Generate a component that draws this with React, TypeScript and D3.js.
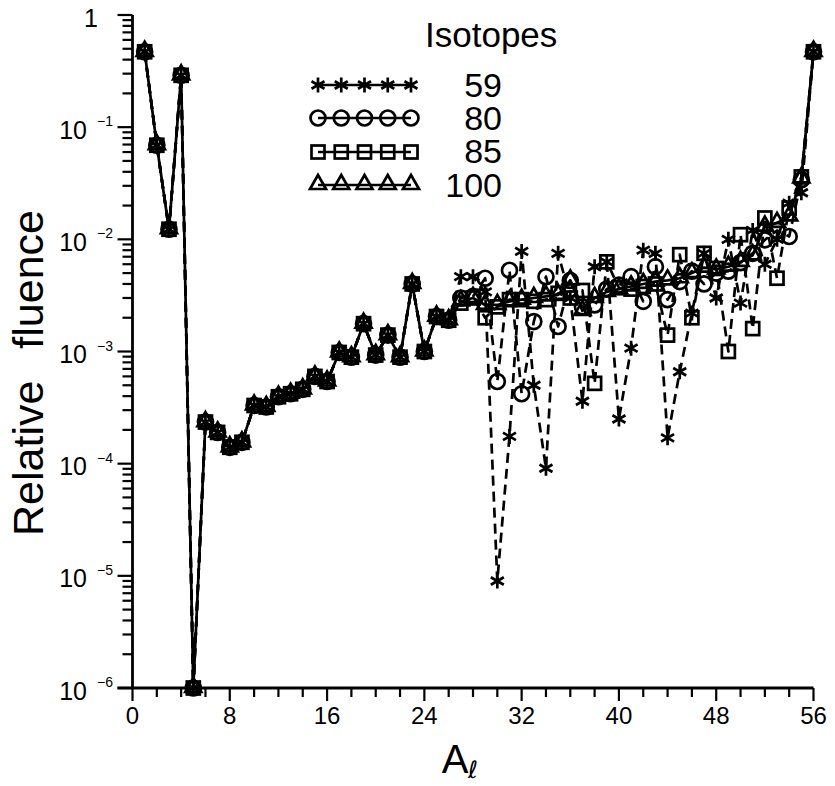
import React from "react";
import * as d3 from "d3";

// ---------- data ----------
const A_VALUES = [
  1, 2, 3, 4, 5, 6, 7, 8, 9, 10, 11, 12, 13, 14, 15, 16, 17, 18, 19, 20,
  21, 22, 23, 24, 25, 26, 27, 28, 29, 30, 31, 32, 33, 34, 35, 36, 37, 38, 39, 40,
  41, 42, 43, 44, 45, 46, 47, 48, 49, 50, 51, 52, 53, 54, 55, 56,
];

// identical for every isotope set (A = 1..26)
const COMMON = [
  0.47, 0.069, 0.0123, 0.29, 1e-6, 2.35e-4, 1.9e-4, 1.4e-4, 1.55e-4, 3.3e-4,
  3.2e-4, 3.95e-4, 4.2e-4, 4.6e-4, 6.0e-4, 5.4e-4, 9.8e-4, 8.9e-4, 1.77e-3, 9.3e-4,
  1.4e-3, 8.9e-4, 4.0e-3, 1.0e-3, 2.05e-3, 1.9e-3,
];

// A = 27..56
const TAIL_59 = [
  4.65e-3, 4.65e-3, 3.4e-3, 9e-6, 1.75e-4, 7.8e-3, 5.0e-4, 9.1e-5, 7.5e-3, 3.0e-3,
  3.6e-4, 5.7e-3, 6.3e-3, 2.5e-4, 1.07e-3, 8.0e-3, 7.5e-3, 1.7e-4, 6.6e-4, 2.2e-3,
  7.5e-3, 3.0e-3, 1.0e-2, 2.7e-3, 1.2e-2, 6.0e-3, 1.0e-2, 2.1e-2, 2.6e-2, 0.47,
];
const TAIL_80 = [
  3.0e-3, 3.1e-3, 4.5e-3, 5.4e-4, 5.3e-3, 4.2e-4, 1.85e-3, 4.65e-3, 1.67e-3, 4.3e-3,
  2.5e-3, 2.6e-3, 3.6e-3, 3.9e-3, 4.65e-3, 2.8e-3, 5.7e-3, 2.9e-3, 4.2e-3, 5.2e-3,
  4.0e-3, 5.0e-3, 5.2e-3, 6.2e-3, 7.5e-3, 9.9e-3, 1.2e-2, 1.06e-2, 3.4e-2, 0.47,
];
const TAIL_85 = [
  2.7e-3, 3.0e-3, 2.0e-3, 2.5e-3, 2.9e-3, 2.9e-3, 2.8e-3, 2.9e-3, 3.3e-3, 3.0e-3,
  3.5e-3, 5.2e-4, 6.3e-3, 3.7e-3, 3.6e-3, 3.8e-3, 4.0e-3, 1.4e-3, 7.3e-3, 2.0e-3,
  7.5e-3, 5.5e-3, 1.0e-3, 1.1e-2, 1.6e-3, 1.55e-2, 4.5e-3, 1.9e-2, 3.6e-2, 0.47,
];
const TAIL_100 = [
  2.8e-3, 3.0e-3, 2.6e-3, 2.6e-3, 2.8e-3, 2.9e-3, 3.0e-3, 3.1e-3, 3.2e-3, 4.3e-3,
  2.3e-3, 3.0e-3, 3.4e-3, 3.6e-3, 3.8e-3, 4.0e-3, 4.2e-3, 4.3e-3, 4.5e-3, 5.0e-3,
  5.6e-3, 5.4e-3, 5.7e-3, 6.3e-3, 7.2e-3, 1.3e-2, 1.4e-2, 1.6e-2, 3.5e-2, 0.47,
];

const SERIES_NAMES = ["59", "80", "85", "100"];
const SERIES_MARKERS = ["asterisk", "circle", "square", "triangle"];
const SERIES_VALUES = [
  [...COMMON, ...TAIL_59],
  [...COMMON, ...TAIL_80],
  [...COMMON, ...TAIL_85],
  [...COMMON, ...TAIL_100],
];
const SERIES_DASH = ["10,6", "10,6", "10,6", null];

const X_TICKS = [0, 8, 16, 24, 32, 40, 48, 56];
const Y_TICK_EXPONENTS = [0, -1, -2, -3, -4, -5, -6];

const FONT = "'Liberation Sans', Arial, sans-serif";
const SW = 2.7;

function Marker({ type, cx, cy }: { type: string; cx: number; cy: number }) {
  const common = { fill: "none", stroke: "#000", strokeWidth: SW } as any;
  if (type === "circle") return <circle cx={cx} cy={cy} r={7.5} {...common} />;
  if (type === "square")
    return <rect x={cx - 6.5} y={cy - 6.5} width={13} height={13} {...common} />;
  if (type === "triangle")
    return (
      <path d={`M${cx},${cy - 10} L${cx + 8},${cy + 4} L${cx - 8},${cy + 4} Z`} {...common} />
    );
  const r = 7.5;
  const c = Math.cos(Math.PI / 6) * r;
  const s = Math.sin(Math.PI / 6) * r;
  return (
    <path
      d={`M${cx},${cy - r} L${cx},${cy + r} M${cx - c},${cy - s} L${cx + c},${cy + s} M${cx - c},${cy + s} L${cx + c},${cy - s}`}
      {...common}
    />
  );
}

export default function App() {
  const W = 835;
  const H = 786;
  const x = d3.scaleLinear().domain([0, 56]).range([132.5, 813.5]);
  const y = d3.scaleLog().domain([1e-6, 1]).range([688, 15]);
  const axisX = x(0);
  const axisY = y(1e-6);

  const line = d3
    .line<number>()
    .x((_, i) => x(A_VALUES[i]))
    .y((d) => y(d));

  const yTicks = y.ticks();
  const isMajor = (v: number) => Math.abs(Math.log10(v) - Math.round(Math.log10(v))) < 1e-9;
  const xMinor = d3.range(0, 57, 2);

  const legendX = d3.scaleLinear().domain([0, 4]).range([318, 411]);
  const legendRowsY = [85, 118, 152, 185];
  const legendTextY = [97, 130, 163, 197];

  return (
    <svg
      width={W}
      height={H}
      style={{ position: "absolute", left: 0, top: 0, background: "#fff" }}
      fontFamily={FONT}
    >
      <rect x={0} y={0} width={W} height={H} fill="#fff" />

      {/* series */}
      {SERIES_VALUES.map((vals, si) => (
        <g key={"s" + si}>
          <path
            d={line(vals) || ""}
            fill="none"
            stroke="#000"
            strokeWidth={SW}
            strokeDasharray={SERIES_DASH[si] || undefined}
            strokeLinejoin="round"
          />
          {vals.map((v, i) => (
            <Marker key={i} type={SERIES_MARKERS[si]} cx={x(A_VALUES[i])} cy={y(v)} />
          ))}
        </g>
      ))}

      {/* y axis */}
      <line x1={axisX} x2={axisX} y1={y(1)} y2={axisY} stroke="#000" strokeWidth={2.8} />
      {yTicks.map((t, i) => (
        <line
          key={"yt" + i}
          x1={axisX - (isMajor(t) ? 15 : 10)}
          x2={axisX}
          y1={y(t)}
          y2={y(t)}
          stroke="#000"
          strokeWidth={2.2}
        />
      ))}
      {Y_TICK_EXPONENTS.map((e) =>
        e === 0 ? (
          <text key={"yl" + e} x={98} y={y(1) + 12} fontSize={25} textAnchor="end">
            1
          </text>
        ) : (
          <g key={"yl" + e}>
            <text x={87} y={y(Math.pow(10, e)) + 11.5} fontSize={25} textAnchor="end">
              10
            </text>
            <text x={97} y={y(Math.pow(10, e)) - 1} fontSize={14}>
              {"\u2212" + Math.abs(e)}
            </text>
          </g>
        )
      )}

      {/* x axis */}
      <line x1={axisX - 15} x2={x(56)} y1={axisY} y2={axisY} stroke="#000" strokeWidth={2.8} />
      {xMinor.map((t) => (
        <line
          key={"xt" + t}
          x1={x(t)}
          x2={x(t)}
          y1={axisY}
          y2={axisY + (t % 8 === 0 ? 13 : 9)}
          stroke="#000"
          strokeWidth={2.2}
        />
      ))}
      {X_TICKS.map((t) => (
        <text key={"xl" + t} x={x(t)} y={724} fontSize={24} textAnchor="middle">
          {t}
        </text>
      ))}

      {/* axis titles */}
      <text
        transform="translate(43,373) rotate(-90)"
        fontSize={43}
        textAnchor="middle"
        wordSpacing={20}
      >
        Relative fluence
      </text>
      <text x={455} y={773} fontSize={40} textAnchor="middle">
        A
      </text>
      <text x={473} y={778} fontSize={24} textAnchor="middle" fontFamily="'DejaVu Sans', sans-serif">
        {"\u2113"}
      </text>

      {/* legend */}
      <text x={425} y={47} fontSize={35}>
        Isotopes
      </text>
      {SERIES_NAMES.map((name, si) => (
        <g key={"lg" + si}>
          <line
            x1={legendX(0)}
            x2={legendX(4)}
            y1={legendRowsY[si]}
            y2={legendRowsY[si]}
            stroke="#000"
            strokeWidth={SW}
          />
          {d3.range(5).map((k) => (
            <Marker key={k} type={SERIES_MARKERS[si]} cx={legendX(k)} cy={legendRowsY[si]} />
          ))}
          <text x={502} y={legendTextY[si]} fontSize={34} textAnchor="end">
            {name}
          </text>
        </g>
      ))}
    </svg>
  );
}
